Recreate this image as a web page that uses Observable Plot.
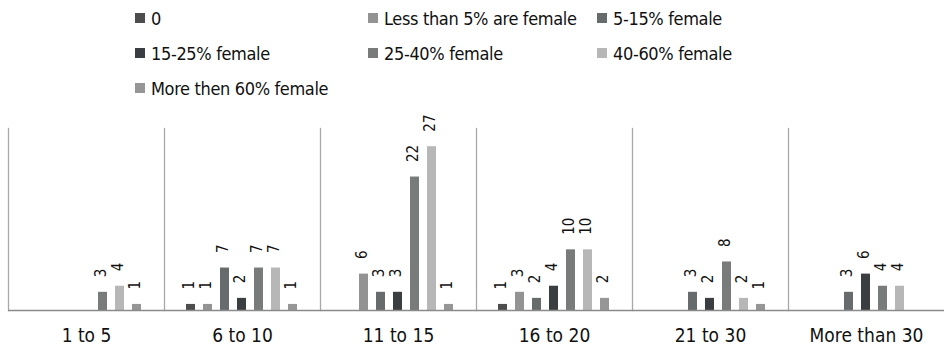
<!DOCTYPE html>
<html>
<head>
<meta charset="utf-8">
<script src="https://cdn.jsdelivr.net/npm/d3@7"></script>
<script src="https://cdn.jsdelivr.net/npm/@observablehq/plot@0.6"></script>
<style>
  body { margin: 0; background: #fff; font-family: "DejaVu Sans Condensed", "DejaVu Sans", sans-serif; }
  #legend { position: relative; width: 945px; height: 100px; }
  .item { position: absolute; display: flex; align-items: center; height: 20px; font-size: 18px; letter-spacing: -0.35px; color: #111; white-space: nowrap; }
  .sw { width: 10px; height: 10px; margin-right: 6px; flex: none; }
  #chart svg { display: block; }
</style>
</head>
<body>
<div id="legend"></div>
<div id="chart"></div>
<script>
// Team size groups along the bottom
const groups = ["1 to 5", "6 to 10", "11 to 15", "16 to 20", "21 to 30", "More than 30"];

// Share-of-women categories (legend order)
const series = [
  "0",
  "Less than 5% are female",
  "5-15% female",
  "15-25% female",
  "25-40% female",
  "40-60% female",
  "More then 60% female"
];
const colors = ["#4d4d4d", "#939393", "#686b6c", "#3b3e41", "#797b7b", "#b7b7b7", "#969696"];

// Counts per group for each category (null = no bar)
const valsZero    = [null, 1, null, 1, null, null];
const valsUnder5  = [null, 1, 6, 3, null, null];
const vals5to15   = [null, 7, 3, 2, 3, 3];
const vals15to25  = [null, 2, 3, 4, 2, 6];
const vals25to40  = [3, 7, 22, 10, 8, 4];
const vals40to60  = [4, 7, 27, 10, 2, 4];
const valsOver60  = [1, 1, 1, 2, 1, null];
const seriesValues = [valsZero, valsUnder5, vals5to15, vals15to25, vals25to40, vals40to60, valsOver60];

const data = series.flatMap((s, i) =>
  groups.map((g, j) => ({group: g, series: s, value: seriesValues[i][j]}))
).filter(d => d.value != null);

// Legend: three columns, three rows
const legend = document.getElementById("legend");
const colX = [135, 368, 597];
const rowY = [8, 43, 78];
series.forEach((s, i) => {
  const item = document.createElement("div");
  item.className = "item";
  item.style.left = colX[i % 3] + "px";
  item.style.top = rowY[Math.floor(i / 3)] + "px";
  const sw = document.createElement("span");
  sw.className = "sw";
  sw.style.background = colors[i];
  const label = document.createElement("span");
  label.textContent = s;
  item.append(sw, label);
  legend.append(item);
});

const chart = Plot.plot({
  width: 945,
  height: 248,
  marginTop: 28,
  marginBottom: 38,
  marginLeft: 7,
  marginRight: 0,
  style: {fontFamily: "'DejaVu Sans Condensed', 'DejaVu Sans', sans-serif", fontSize: "19px", color: "#111"},
  fx: {domain: groups, padding: 0, label: null, axis: "bottom", tickSize: 0, tickPadding: 18},
  x: {domain: series, paddingInner: 0.47, paddingOuter: 1.18, axis: null},
  y: {domain: [0, 30], axis: null},
  color: {domain: series, range: colors},
  marks: [
    Plot.frame({anchor: "left", stroke: "#a8a8a8", strokeWidth: 1.3}),
    Plot.barY(data, {fx: "group", x: "series", y: "value", fill: "series"}),
    Plot.ruleY([0], {stroke: "#8a8a8a", strokeWidth: 1.3}),
    Plot.text(data, {
      fx: "group", x: "series", y: "value",
      text: d => String(d.value),
      rotate: -90, textAnchor: "start", lineAnchor: "middle",
      dy: -15, dx: -2, fontSize: 15, letterSpacing: -0.5, fill: "#111"
    })
  ]
});
document.getElementById("chart").append(chart);
</script>
</body>
</html>
